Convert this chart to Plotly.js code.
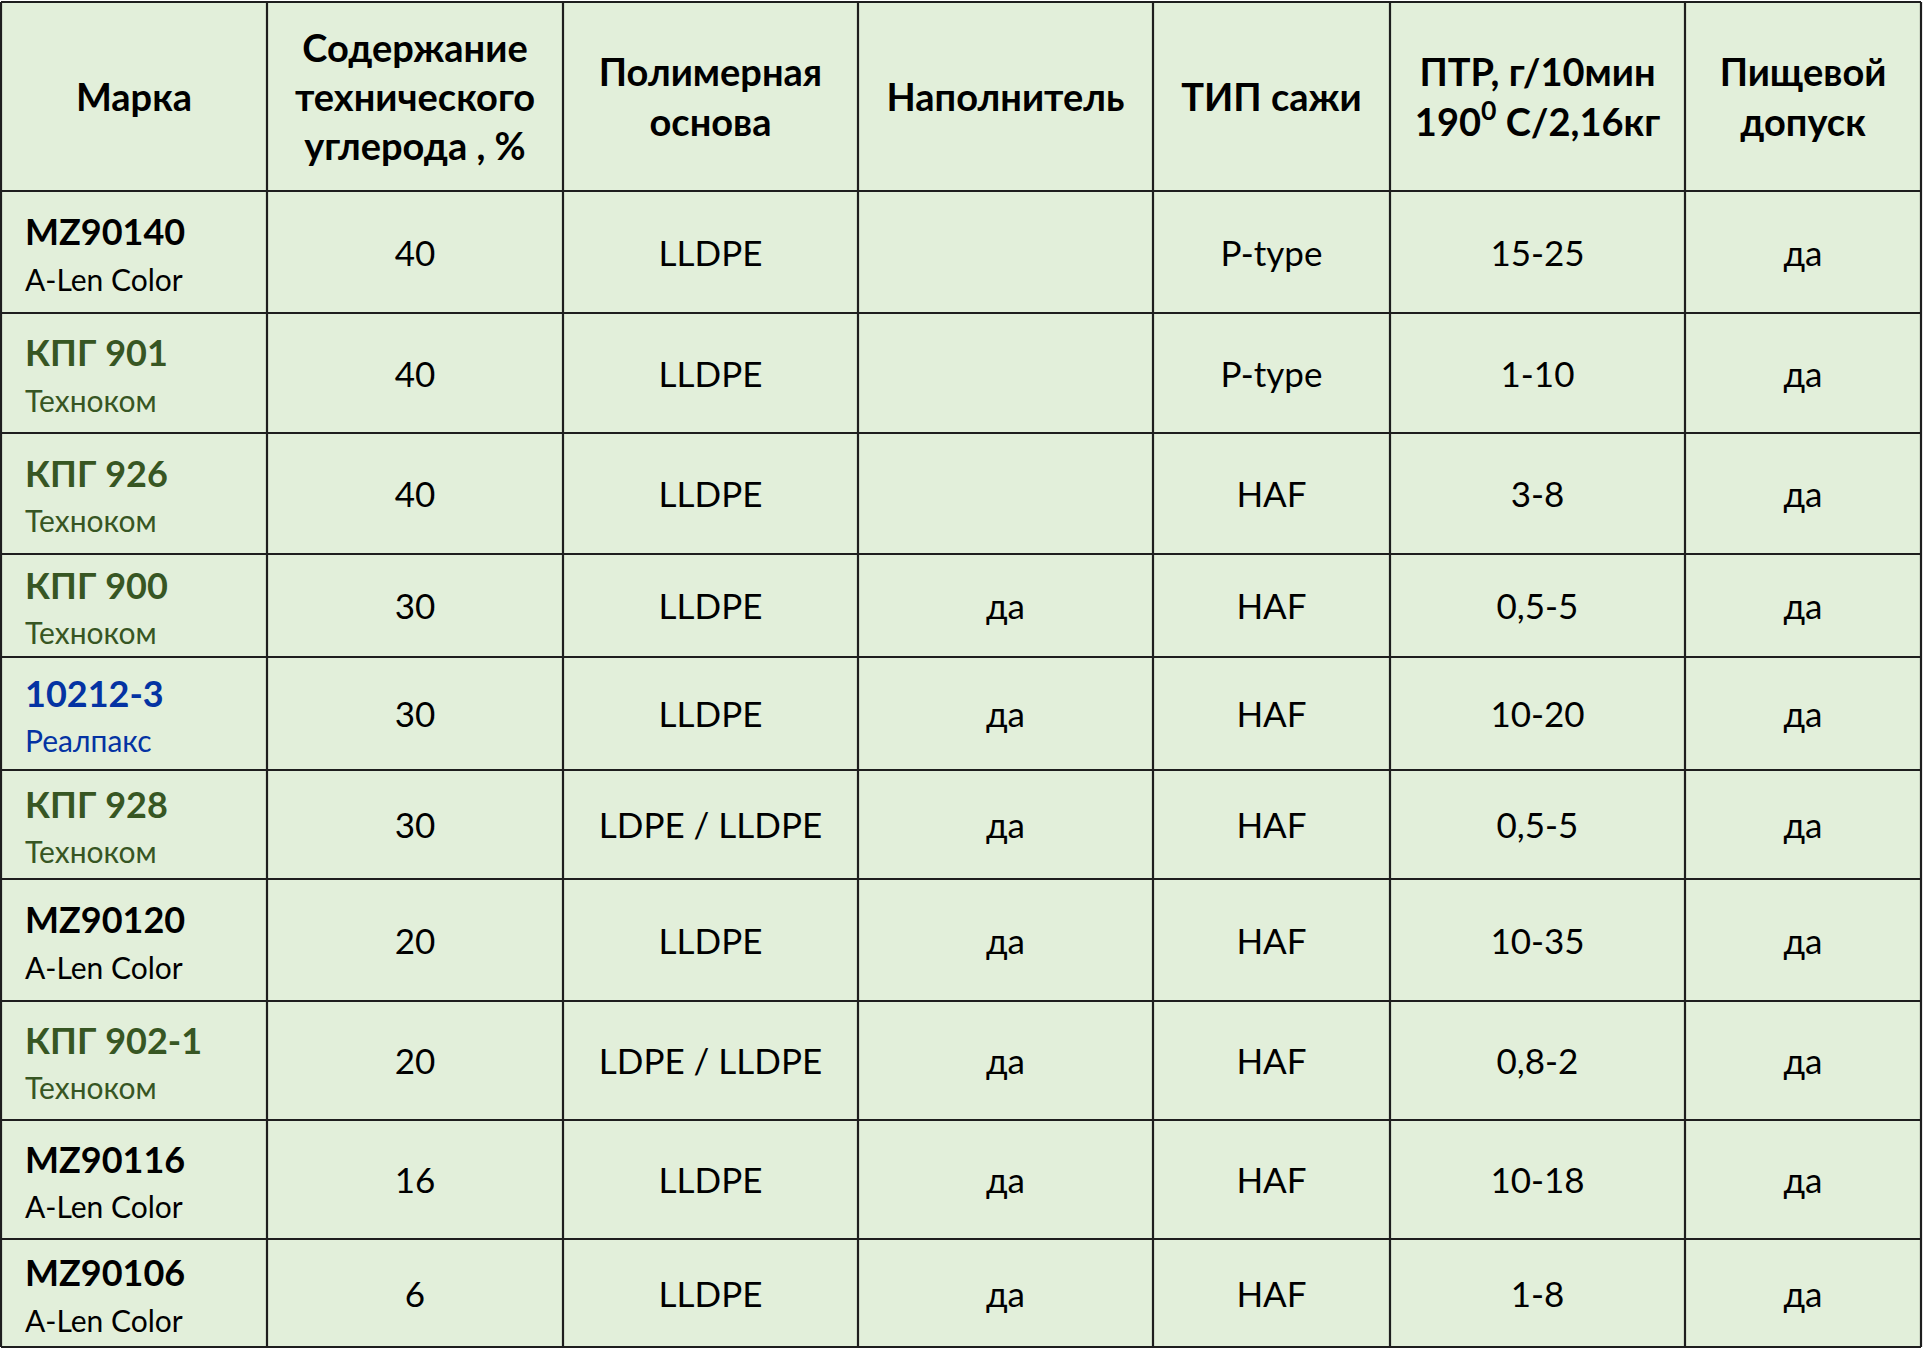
<!DOCTYPE html>
<html>
<head>
<meta charset="utf-8">
<script src="https://cdn.plot.ly/plotly-3.0.1.min.js"></script>
<style>html,body{margin:0;padding:0;background:#ffffff;}#chart{width:1923px;height:1350px;}</style>
</head>
<body>
<div id="chart"></div>
<script>
// ---- data ----
const headers = [
  'Марка',
  'Содержание<br>технического<br>углерода , %',
  'Полимерная<br>основа',
  'Наполнитель',
  'ТИП сажи',
  'ПТР, г/10мин<br>190<sup>0</sup> C/2,16кг',
  'Пищевой<br>допуск'
];
const grades = ['MZ90140','КПГ 901','КПГ 926','КПГ 900','10212-3','КПГ 928','MZ90120','КПГ 902-1','MZ90116','MZ90106'];
const makers = ['A-Len Color','Техноком','Техноком','Техноком','Реалпакс','Техноком','A-Len Color','Техноком','A-Len Color','A-Len Color'];
const carbon = ['40','40','40','30','30','30','20','20','16','6'];
const polymerBase = ['LLDPE','LLDPE','LLDPE','LLDPE','LLDPE','LDPE / LLDPE','LLDPE','LDPE / LLDPE','LLDPE','LLDPE'];
const filler = ['','','','да','да','да','да','да','да','да'];
const sootType = ['P-type','P-type','HAF','HAF','HAF','HAF','HAF','HAF','HAF','HAF'];
const meltFlow = ['15-25','1-10','3-8','0,5-5','10-20','0,5-5','10-35','0,8-2','10-18','1-8'];
const foodGrade = ['да','да','да','да','да','да','да','да','да','да'];

// ---- layout geometry (table grid, in pixels of the page) ----
const colEdges = [1, 267, 563, 858, 1153, 1390, 1685, 1921];
const rowEdges = [2, 191, 313, 433, 554, 657, 770, 879, 1001, 1120, 1239, 1347];
const namePad = 24;
const headShift = 5;
const bodyShift = 5;
const nameShift = 7;

const makerColor = {'A-Len Color':'#000000','Техноком':'#375623','Реалпакс':'#0433A3'};
const bg = '#E2EFDA';
const lineCol = '#1e1e1e';
const FONT = 'Lato, "Open Sans", sans-serif';

const colCenter = c => (colEdges[c] + colEdges[c + 1]) / 2;
const rowCenter = r => (rowEdges[r + 1] + rowEdges[r + 2]) / 2; // body row r
const headCenter = (rowEdges[0] + rowEdges[1]) / 2 + headShift;

const traces = [];

// header
traces.push({
  type: 'scatter', mode: 'text', hoverinfo: 'skip', showlegend: false,
  x: headers.map((h, c) => colCenter(c)),
  y: headers.map(() => headCenter),
  text: headers.map(h => '<b>' + h + '</b>'),
  textposition: 'middle center',
  textfont: {family: FONT, size: 38, color: '#000000'}
});

// first column: grade + maker
traces.push({
  type: 'scatter', mode: 'text', hoverinfo: 'skip', showlegend: false,
  x: grades.map(() => colEdges[0] + namePad),
  y: grades.map((g, r) => rowCenter(r) + nameShift),
  text: grades.map((g, r) => '<b><span style="font-size:36px">' + g + '</span></b><br><span style="font-size:30px">' + makers[r] + '</span>'),
  textposition: 'middle right',
  textfont: {family: FONT, size: 35, color: makers.map(m => makerColor[m])}
});

// remaining columns
const bodyCols = [carbon, polymerBase, filler, sootType, meltFlow, foodGrade];
bodyCols.forEach((vals, i) => {
  const c = i + 1;
  const idx = vals.map((v, r) => r).filter(r => vals[r] !== '');
  traces.push({
    type: 'scatter', mode: 'text', hoverinfo: 'skip', showlegend: false,
    x: idx.map(() => colCenter(c)),
    y: idx.map(r => rowCenter(r) + bodyShift),
    text: idx.map(r => vals[r]),
    textposition: 'middle center',
    textfont: {family: FONT, size: 35, color: '#000000'}
  });
});

// grid
const shapes = [{
  type: 'rect', xref: 'x', yref: 'y', layer: 'below',
  x0: colEdges[0], x1: colEdges[colEdges.length - 1],
  y0: rowEdges[0], y1: rowEdges[rowEdges.length - 1],
  fillcolor: bg, line: {width: 0}
}];
colEdges.forEach(x => shapes.push({
  type: 'line', xref: 'x', yref: 'y', layer: 'above',
  x0: x, x1: x, y0: rowEdges[0], y1: rowEdges[rowEdges.length - 1],
  line: {color: lineCol, width: 2.2}
}));
rowEdges.forEach(y => shapes.push({
  type: 'line', xref: 'x', yref: 'y', layer: 'above',
  x0: colEdges[0], x1: colEdges[colEdges.length - 1], y0: y, y1: y,
  line: {color: lineCol, width: 2.2}
}));

const layout = {
  width: 1923,
  height: 1350,
  margin: {l: 0, r: 0, t: 0, b: 0},
  paper_bgcolor: '#ffffff',
  plot_bgcolor: '#ffffff',
  xaxis: {range: [0, 1923], visible: false, fixedrange: true},
  yaxis: {range: [1350, 0], visible: false, fixedrange: true},
  shapes: shapes
};

Plotly.newPlot('chart', traces, layout, {displayModeBar: false, staticPlot: true});
</script>
</body>
</html>
